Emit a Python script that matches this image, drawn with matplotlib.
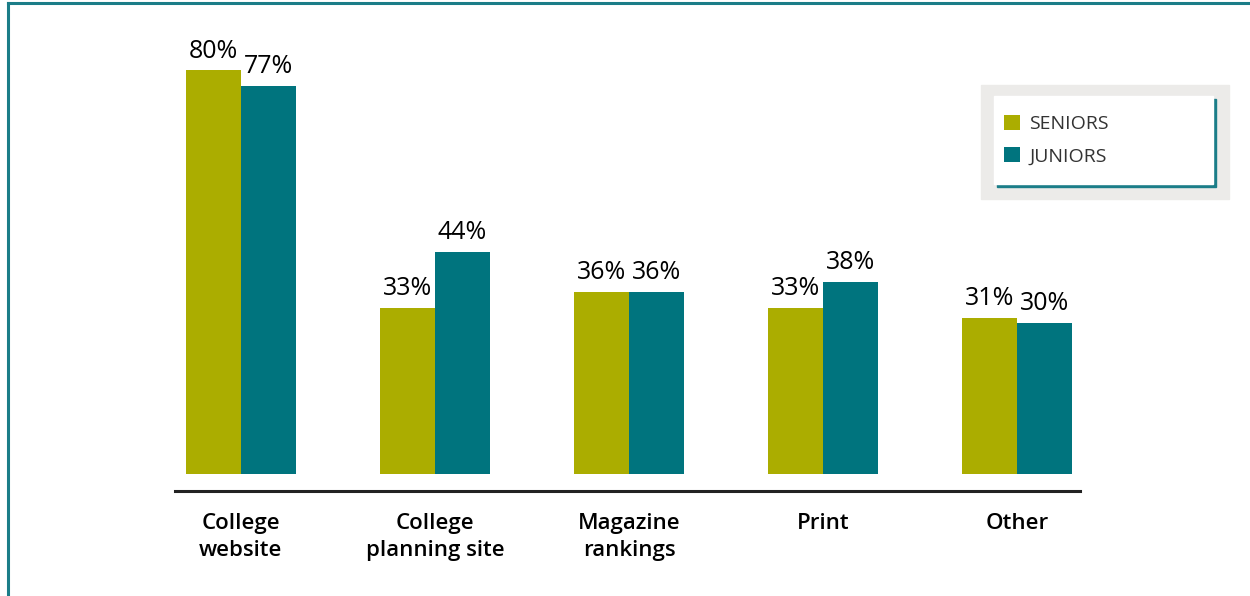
import matplotlib
matplotlib.use('Agg')
import matplotlib.pyplot as plt
import numpy as np
from matplotlib.patches import Rectangle

plt.rcParams['font.family'] = ['Open Sans', 'DejaVu Sans']

categories = ['College\nwebsite', 'College\nplanning site', 'Magazine\nrankings', 'Print', 'Other']
seniors = [80, 33, 36, 33, 31]
juniors = [77, 44, 36, 38, 30]
series_names = ['SENIORS', 'JUNIORS']

c_sen = '#ABAD00'
c_jun = '#00747E'
c_frame = '#1B7D88'

W, H = 1250, 596
fig = plt.figure(figsize=(W / 100, H / 100), dpi=100)

# axes placed in pixel terms
ax = fig.add_axes([175 / W, (H - 491) / H, (1080 - 175) / W, (491 - 20) / H])
x = np.arange(len(categories))
bw = 0.284
b1 = ax.bar(x - bw / 2, seniors, bw, color=c_sen, label=series_names[0])
b2 = ax.bar(x + bw / 2, juniors, bw, color=c_jun, label=series_names[1])

for bars, vals in [(b1, seniors), (b2, juniors)]:
    for r, v in zip(bars, vals):
        ax.annotate(f'{v}%', (r.get_x() + r.get_width() / 2, v), xytext=(0, 5),
                    textcoords='offset points', ha='center', va='bottom',
                    fontsize=18, color='black')

ax.set_xlim(-0.340, 4.325)
ax.set_ylim(-3.37, 90)
ax.axhline(-3.37, color='#222222', lw=2.2, clip_on=False)
for s in ax.spines.values():
    s.set_visible(False)
ax.set_yticks([])
ax.set_xticks(x)
ax.set_xticklabels(categories, fontsize=16, fontweight='semibold', linespacing=1.38)
ax.tick_params(axis='x', length=0, pad=16)

# frame lines top and left
fig.add_artist(plt.Line2D([8 / W, 1], [1 - 3 / H, 1 - 3 / H], color=c_frame, lw=2.2))
fig.add_artist(plt.Line2D([8 / W, 8 / W], [0, 1 - 3 / H], color=c_frame, lw=2.2))

# legend box: grey backdrop, teal shadow, white panel
def px_rect(x0, y0, x1, y1, color, z):
    fig.add_artist(Rectangle((x0 / W, 1 - y1 / H), (x1 - x0) / W, (y1 - y0) / H,
                             transform=fig.transFigure, color=color, zorder=z))

px_rect(981, 85, 1229, 199, '#ECEBE9', 5)
px_rect(997, 99, 1216, 187, c_frame, 6)
px_rect(994, 96, 1213, 184, 'white', 7)

leg = fig.legend(handles=[b1, b2], labels=series_names, loc='upper left',
                 bbox_to_anchor=(994 / W, 1 - 105 / H), frameon=False,
                 fontsize=14, handlelength=0.85, handleheight=0.85,
                 handletextpad=0.45, labelspacing=0.7, borderpad=0)
leg.set_zorder(8)
for t in leg.get_texts():
    t.set_color('#333333')

fig.savefig('out.png', dpi=100)
